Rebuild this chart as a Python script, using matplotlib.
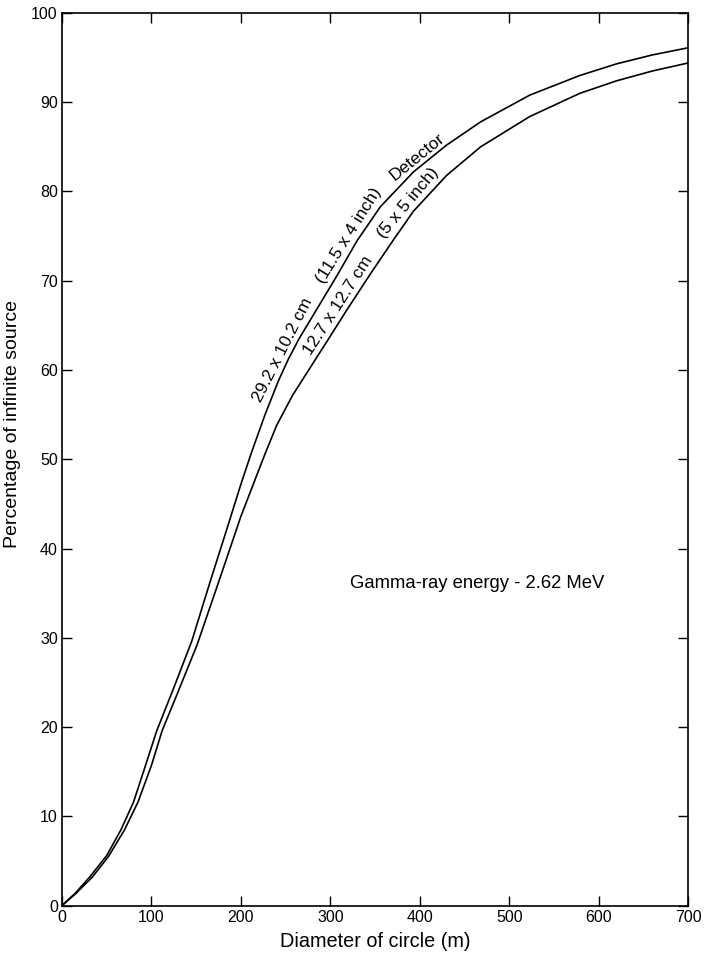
import numpy as np
import matplotlib.pyplot as plt
import matplotlib.transforms as mtransforms

plt.rcParams['font.family'] = ['Liberation Sans', 'DejaVu Sans']

# curve: 29.2 x 10.2 cm detector
d_big = [0, 15, 31, 50, 66, 80, 95, 106, 125, 145, 166, 185, 200, 212, 227,
         242, 253, 265, 289, 307, 330, 356, 393, 430, 468, 523, 579, 620, 660,
         700]
p_big = [0, 1.4, 3.2, 5.6, 8.5, 11.6, 16.2, 19.6, 24.4, 29.6, 36.4, 42.4, 47.2,
         50.8, 55.0, 58.8, 61.2, 63.5, 67.5, 70.5, 74.5, 78.3, 82.2, 85.2,
         87.8, 90.8, 93.0, 94.3, 95.3, 96.1]

# 12.7 x 12.7 cm detector
d_small = [0, 15, 34, 52, 70, 85, 100, 112, 130, 151, 177, 200, 227, 240, 258,
           279, 300, 317, 345, 370, 393, 430, 468, 523, 579, 620, 660, 700]
p_small = [0, 1.3, 3.2, 5.5, 8.5, 11.6, 15.7, 19.6, 24.0, 29.2, 36.8, 43.6, 50.6,
           53.8, 57.2, 60.5, 63.8, 66.5, 70.8, 74.5, 77.8, 81.8, 85.0, 88.4,
           91.0, 92.4, 93.5, 94.4]

xticks = np.arange(0, 701, 100)
yticks = np.arange(0, 101, 10)

fig = plt.figure(figsize=(7.11, 9.55), dpi=100)
ax = fig.add_axes([0.0872, 0.0518, 0.8806, 0.9346])

ax.plot(d_big, p_big, color='black', linewidth=1.2)
ax.plot(d_small, p_small, color='black', linewidth=1.2)

ax.set_xlim(0, 700)
ax.set_ylim(0, 100)
ax.set_xticks(xticks)
ax.set_yticks(yticks)
ax.tick_params(direction='in', length=7, width=1, top=True, right=True,
               labelsize=11.5, pad=3)
for s in ax.spines.values():
    s.set_linewidth(1.2)

ax.set_xlabel('Diameter of circle (m)', fontsize=14.3, labelpad=5)
ax.set_ylabel('Percentage of infinite source', fontsize=14)
ax.yaxis.set_label_coords(-0.066, 0.54)


def curve_text(xs, ys, xm, s, gap=3.5):
    # centre a piece of text on the curve at xm, rotated to the local tangent
    ym = np.interp(xm, xs, ys)
    p1 = ax.transData.transform((xm - 6, np.interp(xm - 6, xs, ys)))
    p2 = ax.transData.transform((xm + 6, np.interp(xm + 6, xs, ys)))
    rot = np.degrees(np.arctan2(p2[1] - p1[1], p2[0] - p1[0]))
    a = np.radians(rot)
    tr = mtransforms.offset_copy(ax.transData, fig=fig, x=-gap * np.sin(a),
                                 y=gap * np.cos(a), units='points')
    ax.text(xm, ym, s, rotation=rot, rotation_mode='anchor', ha='center',
            va='baseline', fontsize=12.5, transform=tr)


curve_text(d_big, p_big, 256, '29.2 x 10.2 cm')
curve_text(d_big, p_big, 330, '(11.5 x 4 inch)')
curve_text(d_big, p_big, 404, 'Detector')
curve_text(d_small, p_small, 318, '12.7 x 12.7 cm')
curve_text(d_small, p_small, 395, '(5 x 5 inch)')

ax.text(464, 36.1, 'Gamma-ray energy - 2.62 MeV', fontsize=13.3,
        ha='center', va='center')

fig.savefig('out.png', dpi=100)
